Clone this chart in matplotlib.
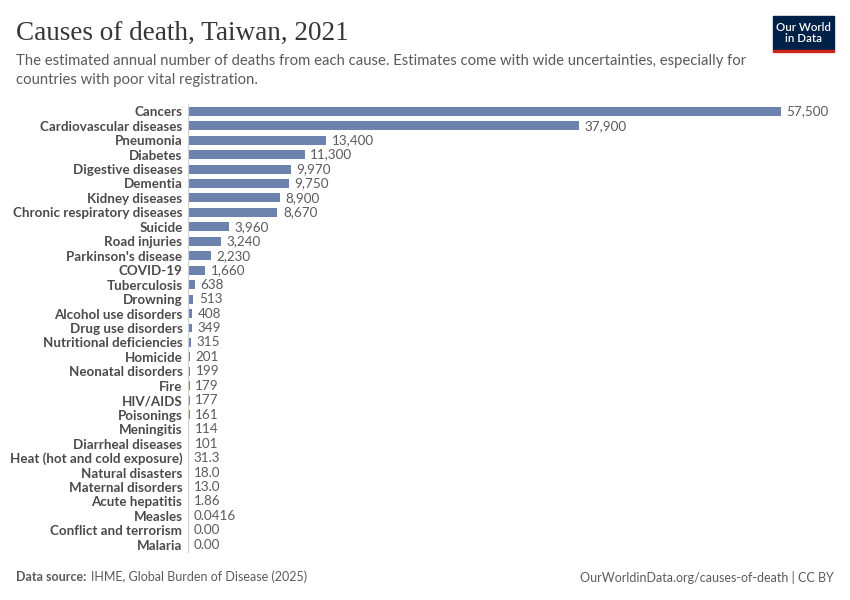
import matplotlib.pyplot as plt
from matplotlib.patches import Rectangle

# data
causes = ["Cancers", "Cardiovascular diseases", "Pneumonia", "Diabetes", "Digestive diseases",
          "Dementia", "Kidney diseases", "Chronic respiratory diseases", "Suicide", "Road injuries",
          "Parkinson's disease", "COVID-19", "Tuberculosis", "Drowning", "Alcohol use disorders",
          "Drug use disorders", "Nutritional deficiencies", "Homicide", "Neonatal disorders", "Fire",
          "HIV/AIDS", "Poisonings", "Meningitis", "Diarrheal diseases", "Heat (hot and cold exposure)",
          "Natural disasters", "Maternal disorders", "Acute hepatitis", "Measles",
          "Conflict and terrorism", "Malaria"]
deaths = [57500, 37900, 13400, 11300, 9970, 9750, 8900, 8670, 3960, 3240, 2230, 1660, 638, 513,
          408, 349, 315, 201, 199, 179, 177, 161, 114, 101, 31.3, 18.0, 13.0, 1.86, 0.0416, 0.0, 0.0]
value_labels = ["57,500", "37,900", "13,400", "11,300", "9,970", "9,750", "8,900", "8,670", "3,960",
                "3,240", "2,230", "1,660", "638", "513", "408", "349", "315", "201", "199", "179",
                "177", "161", "114", "101", "31.3", "18.0", "13.0", "1.86", "0.0416", "0.00", "0.00"]

bar_color = "#6c83ae"
text_gray = "#5b5b5b"
label_gray = "#4a4a4a"

fig = plt.figure(figsize=(8.5, 6), dpi=100)
W, H = 850, 600

# axes placed so bars start at x=188 and cancers ends at x=781
ax = fig.add_axes([188 / W, 1 - 552 / H, (781 - 188) / W, (552 - 104) / H])
y = list(range(len(causes)))
ax.barh(y, deaths, height=0.62, color=bar_color)
ax.set_xlim(0, 57500)
ax.set_ylim(len(causes) - 0.5, -0.5)

for i, (v, lab) in enumerate(zip(deaths, value_labels)):
    ax.annotate(lab, (v, i), xytext=(4, 0), textcoords="offset points", va="center", ha="left",
                fontsize=9.7, color=text_gray, family="Lato", clip_on=False)

ax.set_yticks(y)
ax.set_yticklabels(causes, fontsize=9.6, fontweight="bold", color=label_gray, family="Lato")
ax.tick_params(axis="y", length=0, pad=4)
ax.set_xticks([])
for s in ["top", "right", "bottom"]:
    ax.spines[s].set_visible(False)
ax.spines["left"].set_color("#d0d0d0")
ax.spines["left"].set_linewidth(0.8)

# title and subtitle
fig.text(16 / W, 1 - 33 / H, "Causes of death, Taiwan, 2021", fontsize=19.5, family="Liberation Serif",
         color="#363636", va="center", ha="left")
fig.text(16 / W, 1 - 61 / H, "The estimated annual number of deaths from each cause. Estimates come with wide uncertainties, especially for",
         fontsize=10.7, family="Lato", color=text_gray, va="center")
fig.text(16 / W, 1 - 80 / H, "countries with poor vital registration.",
         fontsize=10.7, family="Lato", color=text_gray, va="center")

# logo
fig.patches.append(Rectangle((773 / W, 1 - 50 / H), 61 / W, 34 / H, transform=fig.transFigure,
                             color="#002147"))
fig.patches.append(Rectangle((773 / W, 1 - 52 / H), 61 / W, 2.5 / H, transform=fig.transFigure,
                             color="#ce261e"))
fig.text(803.5 / W, 1 - 33 / H, "Our World\nin Data", fontsize=8.3, family="Lato", fontweight="semibold",
         color="white", ha="center", va="center", linespacing=1.0)

# footer
fig.text(16 / W, 1 - 577 / H, "Data source:", fontsize=9, family="Lato", fontweight="bold",
         color=text_gray, va="center")
fig.text(91 / W, 1 - 577 / H, "IHME, Global Burden of Disease (2025)", fontsize=9, family="Lato",
         color=text_gray, va="center")
fig.text(834 / W, 1 - 577 / H, "OurWorldinData.org/causes-of-death | CC BY", fontsize=9,
         family="Lato", color=text_gray, va="center", ha="right")

fig.savefig("out.png", dpi=100, facecolor="white")
